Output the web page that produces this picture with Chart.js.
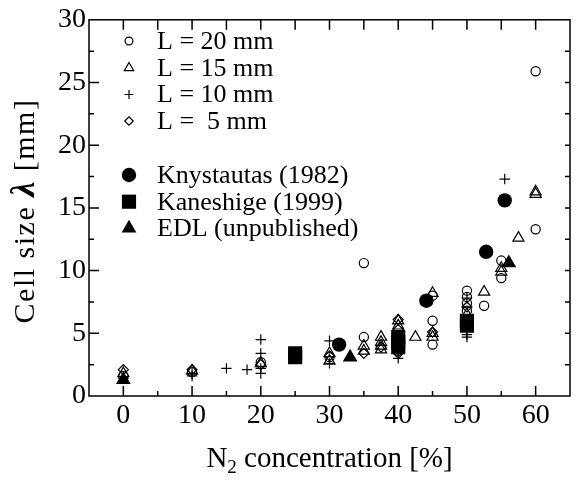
<!DOCTYPE html>
<html>
<head>
<meta charset="utf-8">
<script src="https://cdn.jsdelivr.net/npm/chart.js@4/dist/chart.umd.min.js"></script>
<style>
  html, body { margin: 0; padding: 0; background: #fff; }
</style>
</head>
<body>
<canvas id="chart" width="580" height="481"></canvas>
<script>
// cell size [mm] vs N2 concentration [%]
const l20 = [[0,1.6],[10,1.9],[20,2.7],[30,3.1],[35,4.7],[35,10.6],[40,3.6],[40,4.2],[45,4.1],[45,6.0],[45,8.0],[50,6.8],[50,7.4],[50,7.9],[50,8.4],[52.5,7.2],[55,9.4],[55,10.8],[60,13.3],[60,25.9]];
const l15 = [[0,1.8],[10,2.0],[20,2.6],[30,2.8],[30,3.4],[35,3.6],[35,4.0],[37.5,3.7],[37.5,4.0],[37.5,4.3],[37.5,4.7],[40,5.6],[40,6.0],[42.5,4.7],[45,4.7],[45,5.0],[45,8.2],[50,6.5],[52.5,8.3],[55,9.9],[55,10.2],[57.5,12.6],[60,16.1],[60,16.3]];
const l10 = [[0,1.4],[10,1.6],[10,1.8],[15,2.2],[18,2.1],[20,1.8],[20,2.2],[20,3.4],[20,4.5],[25,3.5],[30,2.6],[30,4.4],[40,3.0],[40,3.4],[50,4.7],[50,4.9],[50,7.8],[55.5,17.3]];
const l5 = [[0,2.1],[10,2.1],[20,2.5],[30,3.2],[35,3.4],[37.5,3.9],[40,3.4],[40,5.3],[40,6.1],[45,5.1],[50,7.1]];
const knystautas = [[31.4,4.1],[44.1,7.6],[52.8,11.5],[55.5,15.6]];
const kaneshige = [[25,3.1],[25,3.4],[40,3.9],[40,4.3],[40,4.7],[50,5.6],[50,6.0]];
const edl = [[0,1.3],[33,3.1],[56.1,10.6]];

const xTicks = [0, 10, 20, 30, 40, 50, 60];
const yTicks = [0, 5, 10, 15, 20, 25, 30];

const FONT = '"Liberation Serif", "Times New Roman", serif';

function pts(arr) {
    return arr.map(function (p) { return {x: p[0], y: p[1]}; });
}

function series(label, data, style, radius, filled) {
    return {
        label: label,
        data: pts(data),
        pointStyle: style,
        pointRadius: radius,
        pointHoverRadius: radius,
        borderColor: '#000',
        backgroundColor: filled ? '#000' : 'rgba(0,0,0,0)',
        borderWidth: filled ? 0 : 1.2,
        order: filled ? 0 : 1,
        legendRadius: filled ? radius : radius * 0.85,
        filled: filled
    };
}

const datasets = [
    series('L = 20 mm', l20, 'circle', 4.6, false),
    series('L = 15 mm', l15, 'triangle', 6.4, false),
    series('L = 10 mm', l10, 'cross', 5.2, false),
    series('L =  5 mm', l5, 'rectRot', 5, false),
    series('Knystautas (1982)', knystautas, 'circle', 7.2, true),
    series('Kaneshige (1999)', kaneshige, 'rect', 10, true),
    series('EDL (unpublished)', edl, 'triangle', 8.5, true)
];

// box, inward ticks, titles, legend
const decorations = {
    id: 'decorations',
    afterDatasetsDraw(chart) {
        const ctx = chart.ctx, a = chart.chartArea;
        const x = chart.scales.x, y = chart.scales.y;
        ctx.save();
        ctx.strokeStyle = '#000';
        ctx.lineWidth = 1.5;
        ctx.strokeRect(a.left, a.top, a.right - a.left, a.bottom - a.top);

        ctx.beginPath();
        for (let v = 0; v < x.max; v += 5) {
            const px = x.getPixelForValue(v);
            const len = v % 10 === 0 ? 10 : 5;
            ctx.moveTo(px, a.bottom); ctx.lineTo(px, a.bottom - len);
            ctx.moveTo(px, a.top); ctx.lineTo(px, a.top + 10);
        }
        for (let v = 2.5; v < y.max; v += 2.5) {
            const py = y.getPixelForValue(v);
            const len = v % 5 === 0 ? 10 : 5;
            ctx.moveTo(a.left, py); ctx.lineTo(a.left + len, py);
            ctx.moveTo(a.right, py); ctx.lineTo(a.right - 5, py);
        }
        ctx.stroke();

        // x title with subscript
        ctx.fillStyle = '#000';
        ctx.textBaseline = 'alphabetic';
        ctx.textAlign = 'left';
        const big = '29px ' + FONT, small = '19px ' + FONT;
        const xParts = [['N', big, 0], ['2', small, 6], [' concentration [%]', big, 0]];
        drawParts(ctx, xParts, (a.left + a.right) / 2, 466.5, 0);

        // y title, rotated
        ctx.translate(33.5, 211);
        ctx.rotate(-Math.PI / 2);
        const yFont = '30px ' + FONT;
        const yParts = [['Cell size ', yFont, 0], ['\u03bb', 'italic bold 34px ' + FONT, 0], [' [mm]', yFont, 0]];
        drawParts(ctx, yParts, 0, 0, 1.5);
        ctx.restore();

        drawLegend(ctx, a);
    }
};

function drawParts(ctx, parts, cx, baseline, spacing) {
    ctx.letterSpacing = spacing + 'px';
    let total = 0;
    parts.forEach(function (p) {
        ctx.font = p[1];
        total += ctx.measureText(p[0]).width;
    });
    let cur = cx - total / 2;
    parts.forEach(function (p) {
        ctx.font = p[1];
        ctx.fillText(p[0], cur, baseline + p[2]);
        cur += ctx.measureText(p[0]).width;
    });
    ctx.letterSpacing = '0px';
}

function drawLegend(ctx, a) {
    const rows = [41, 68, 94.5, 121, 175, 201.7, 228.3];
    const markX = a.left + 40, textX = a.left + 68;
    ctx.save();
    ctx.font = '26px ' + FONT;
    ctx.textBaseline = 'middle';
    ctx.textAlign = 'left';
    datasets.forEach(function (ds, i) {
        ctx.fillStyle = ds.filled ? '#000' : 'rgba(0,0,0,0)';
        ctx.strokeStyle = '#000';
        ctx.lineWidth = ds.filled ? 0 : 1.2;
        Chart.helpers.drawPoint(ctx, {
            pointStyle: ds.pointStyle,
            radius: ds.legendRadius,
            rotation: 0,
            borderWidth: ds.filled ? 0 : 1.2
        }, markX, rows[i]);
        ctx.fillStyle = '#000';
        ctx.fillText(ds.label, textX, rows[i] + 1);
    });
    ctx.restore();
}

new Chart(document.getElementById('chart'), {
    type: 'scatter',
    data: {datasets: datasets},
    options: {
        responsive: false,
        animation: false,
        layout: {padding: {left: 0, top: 15, right: 1, bottom: 0}},
        plugins: {legend: {display: false}, tooltip: {enabled: false}},
        scales: {
            x: {
                type: 'linear',
                min: -5,
                max: 65,
                afterBuildTicks: function (s) { s.ticks = xTicks.map(function (v) { return {value: v}; }); },
                afterFit: function (s) { s.height = 85; },
                grid: {display: false, drawTicks: false},
                border: {display: false},
                ticks: {color: '#000', padding: 3, maxRotation: 0, font: {family: FONT, size: 28}}
            },
            y: {
                type: 'linear',
                min: 0,
                max: 30,
                afterBuildTicks: function (s) { s.ticks = yTicks.map(function (v) { return {value: v}; }); },
                afterFit: function (s) { s.width = 89; },
                grid: {display: false, drawTicks: false},
                border: {display: false},
                ticks: {color: '#000', padding: 3, font: {family: FONT, size: 28}}
            }
        }
    },
    plugins: [decorations]
});
</script>
</body>
</html>
